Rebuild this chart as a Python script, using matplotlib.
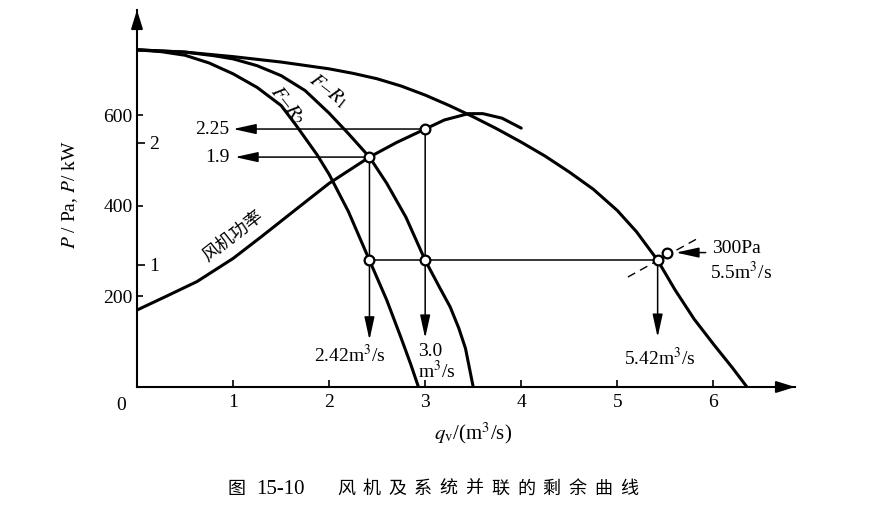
import matplotlib
matplotlib.use('Agg')
import matplotlib.pyplot as plt

# ---------------- data ----------------
q_par = [0, 0.5, 1.0, 1.5, 2.0, 2.25, 2.5, 2.75, 3.0, 3.25, 3.5, 3.75, 4.0, 4.25,
         4.5, 4.75, 5.0, 5.2, 5.42, 5.6, 5.8, 6.0, 6.2, 6.35]
p_par = [745, 740, 730, 718, 703, 693, 681, 665, 645, 622, 597, 570, 541, 510,
         475, 437, 390, 343, 280, 215, 150, 95, 42, 0]

q_r1 = [0, 0.5, 0.8, 1.0, 1.25, 1.5, 1.75, 2.0, 2.2, 2.42, 2.6, 2.8, 3.0, 3.15,
        3.26, 3.35, 3.42, 3.5]
p_r1 = [745, 740, 732, 725, 710, 688, 655, 605, 560, 508, 450, 375, 280, 220,
        177, 130, 85, 0]

q_r2 = [0, 0.25, 0.5, 0.75, 1.0, 1.25, 1.5, 1.65, 1.875, 2.0, 2.2, 2.42, 2.6,
        2.75, 2.85, 2.93]
p_r2 = [745, 741, 733, 716, 692, 662, 622, 580, 513, 470, 388, 280, 192,
        108, 50, 0]

q_pow = [0, 0.3, 0.625, 1.0, 1.3, 1.67, 2.0, 2.42, 2.7, 3.0, 3.2, 3.45, 3.6, 3.8, 4.0]
p_pow = [170, 200, 233, 284, 333, 395, 450, 508, 540, 570, 590, 604, 604, 594, 572]

# operating points
q_ops = [2.42, 3.0, 2.42, 3.0, 5.42]
p_ops = [508, 570, 280, 280, 280]
q_design, p_design = 5.52, 297
tangent_q = [5.11, 5.86]
tangent_p = [243, 331]

power_labels = ["2.25", "1.9"]
flow_labels = ["2.42m$^3$/s", "3.0\nm$^3$/s", "5.42m$^3$/s"]

x_ticks = [1, 2, 3, 4, 5, 6]
y_ticks = [200, 400, 600]
kw_ticks = [1, 2]
caption_head = ["图", "15-10"]
caption_body = "风机及系统并联的剩余曲线"

# ---------------- style ----------------
plt.rcParams['font.family'] = ['Liberation Serif', 'Noto Sans CJK SC']
plt.rcParams['mathtext.fontset'] = 'stix'
FS = 14

fig = plt.figure(figsize=(8.75, 5.12), dpi=100)
W, H = 875, 512
ax = fig.add_axes([137 / W, 125 / H, 658 / W, 377 / H])
ax.set_xlim(0, 6.85)
ax.set_ylim(0, 833)
for s in ['top', 'right']:
    ax.spines[s].set_visible(False)
for s in ['left', 'bottom']:
    ax.spines[s].set_linewidth(1.5)

# axis arrows
ax.annotate('', xy=(1.0, 0), xytext=(0.97, 0), xycoords='axes fraction',
            arrowprops=dict(arrowstyle='-|>,head_length=0.8,head_width=0.25',
                            lw=1.5, color='k', mutation_scale=14, shrinkA=0, shrinkB=0),
            annotation_clip=False)
ax.annotate('', xy=(0, 1.0), xytext=(0, 0.95), xycoords='axes fraction',
            arrowprops=dict(arrowstyle='-|>,head_length=0.8,head_width=0.25',
                            lw=1.5, color='k', mutation_scale=14, shrinkA=0, shrinkB=0),
            annotation_clip=False)

ax.set_xticks(x_ticks)
ax.set_xticklabels([str(t) for t in x_ticks], fontsize=FS)
ax.set_yticks(y_ticks)
ax.set_yticklabels([str(t) for t in y_ticks], fontsize=FS)
ax.tick_params(axis='x', direction='in', length=5, width=1.2, pad=5)
ax.tick_params(axis='y', direction='in', length=4, width=1.2, pad=3)
ax.annotate('0', xy=(0, 0), xytext=(-8, -7), textcoords='offset points',
            ha='right', va='top', fontsize=FS)

# kW scale on the same axis line, labels inside
sec = ax.secondary_yaxis('left', functions=(lambda p: p / 270.0, lambda k: k * 270.0))
sec.set_yticks(kw_ticks)
sec.set_yticklabels([str(k) for k in kw_ticks], fontsize=FS)
sec.tick_params(direction='in', length=6, width=1.2, pad=-16)
sec.spines['left'].set_visible(False)

# ---------------- curves ----------------
lw_c = 2.2
for qq, pp in [(q_par, p_par), (q_r1, p_r1), (q_r2, p_r2), (q_pow, p_pow)]:
    ax.plot(qq, pp, color='k', lw=lw_c, solid_joinstyle='round', solid_capstyle='round')

# helper lines
arrow_style = dict(arrowstyle='-|>,head_length=1.0,head_width=0.22', lw=1.1,
                   color='k', mutation_scale=14, shrinkA=0, shrinkB=0)
ax.plot([q_ops[2], q_ops[4]], [p_ops[2], p_ops[4]], color='k', lw=1.1)
ax.annotate('', xy=(1.0, p_ops[1]), xytext=(q_ops[1], p_ops[1]), arrowprops=arrow_style)
ax.annotate('', xy=(1.02, p_ops[0]), xytext=(q_ops[0], p_ops[0]), arrowprops=arrow_style)
ax.annotate('', xy=(q_ops[0], 104), xytext=(q_ops[0], p_ops[0]), arrowprops=arrow_style)
ax.annotate('', xy=(q_ops[1], 108), xytext=(q_ops[1], p_ops[1]), arrowprops=arrow_style)
ax.annotate('', xy=(q_ops[4], 110), xytext=(q_ops[4], p_ops[4]), arrowprops=arrow_style)
ax.annotate('', xy=(q_design + 0.09, p_design), xytext=(q_design + 0.40, p_design),
            arrowprops=arrow_style)
ax.plot(tangent_q, tangent_p, color='k', lw=1.0, ls=(0, (6, 4)))

ax.plot(q_ops, p_ops, 'o', ms=7, mfc='white', mec='k', mew=1.6, zorder=5)
ax.plot([q_design], [p_design], 'o', ms=7, mfc='white', mec='k', mew=1.6, zorder=5)

# ---------------- texts ----------------
ax.text(0.96, p_ops[1], power_labels[0], ha='right', va='center', fontsize=FS)
ax.text(0.96, p_ops[0], power_labels[1], ha='right', va='center', fontsize=FS)
ax.text(2.22, 71, flow_labels[0], ha='center', va='center', fontsize=FS)
ax.text(2.93, 54, flow_labels[1], ha='left', va='center', fontsize=FS,
        multialignment='left', linespacing=1.0)
ax.text(5.44, 65, flow_labels[2], ha='center', va='center', fontsize=FS)
ax.text(5.99, 307, "300Pa", ha='left', va='center', fontsize=FS)
ax.text(5.97, 254, "5.5m$^3$/s", ha='left', va='center', fontsize=FS)

ax.text(1.99, 655, r"$F$–$R_{\rm 1}$", rotation=-38, ha='center', va='center', fontsize=15)
ax.text(1.57, 622, r"$F$–$R_{\rm 2}$", rotation=-52, ha='center', va='center', fontsize=15)
ax.text(1.0, 334, "风机功率", rotation=38, ha='center', va='center', fontsize=13,
        family=['Noto Sans CJK SC'])

fig.text(473 / W, 1 - 433 / H, r"$q_{\rm v}$/(m$^3$/s)", ha='center', va='center', fontsize=15)
fig.text(70 / W, 1 - 195 / H, r"$P$ / Pa, $P$/ kW", ha='center', va='center',
         rotation=90, fontsize=FS)

# caption
fig.text(236 / W, 1 - 489 / H, caption_head[0], ha='center', va='center', fontsize=13,
         family=['Noto Sans CJK SC'])
fig.text(280 / W, 1 - 489 / H, caption_head[1], ha='center', va='center', fontsize=15)
for i, ch in enumerate(caption_body):
    fig.text((346 + i * 25.7) / W, 1 - 489 / H, ch, ha='center', va='center',
             fontsize=13, family=['Noto Sans CJK SC'])

fig.savefig('out.png', dpi=100)
